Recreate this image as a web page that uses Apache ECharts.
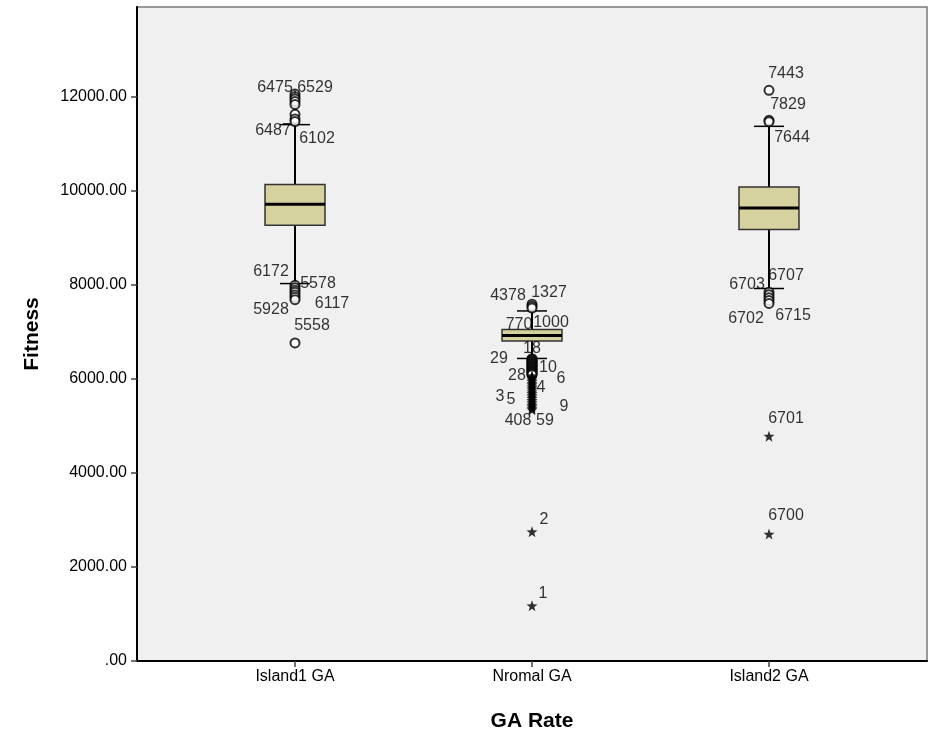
<!DOCTYPE html>
<html>
<head>
<meta charset="utf-8">
<script src="https://cdn.jsdelivr.net/npm/echarts@6/dist/echarts.min.js"></script>
<style>
html,body{margin:0;padding:0;background:#fff;}
#main{width:939px;height:751px;}
</style>
</head>
<body>
<div id="main"></div>
<script>
const categories = ['Island1 GA', 'Nromal GA', 'Island2 GA'];
const yTicks = [0, 2000, 4000, 6000, 8000, 10000, 12000];
// [low whisker, Q1, median, Q3, high whisker]
const boxStats = [
  [8022, 9261, 9707, 10125, 11400],
  [6430, 6803, 6918, 7045, 7440],
  [7917, 9170, 9629, 10075, 11364]
];
// mild outliers (circles)
const circlesIsland1 = [12050, 11995, 11945, 11890, 11830, 11620, 11520, 11465, 7985, 7935, 7880, 7835, 7780, 7730, 7680, 6761];
const circlesNormal = [7583, 7540, 7500, 6425, 6405, 6382, 6364, 6341, 6322, 6300, 6283, 6259, 6240, 6222, 6198, 6181, 6160, 6139, 6121, 6100, 6086];
const circlesIsland2 = [12128, 11491, 11462, 7838, 7785, 7722, 7664, 7600];
// extreme outliers (stars)
const starsNormal = [6062, 6033, 6004, 5969, 5941, 5902, 5871, 5833, 5801, 5762, 5724, 5690, 5652, 5613, 5581, 5540, 5503, 5468, 5432, 5401, 5368, 5340, 2747, 1175];
const starsIsland2 = [4779, 2697];
// outlier case labels: [category index, value at label, text]
const caseLabels = [
  [0, 12192, '6475,6529'], [0, 11279, '6487'], [0, 11109, '6102'], [0, 8284, '6172'],
  [0, 8029, '5578'], [0, 7477, '5928'], [0, 7604, '6117'], [0, 7137, '5558'],
  [1, 7774, '4378'], [1, 7838, '1327'], [1, 7158, '770'], [1, 7200, '1000'],
  [1, 6648, '18'], [1, 6436, '29'], [1, 6075, '28'], [1, 6245, '10'], [1, 6011, '6'],
  [1, 5820, '4'], [1, 5629, '3'], [1, 5565, '5'], [1, 5416, '9'], [1, 5119, '408'],
  [1, 5119, '59'], [1, 3016, '2'], [1, 1423, '1'],
  [2, 12489, '7443'], [2, 11831, '7829'], [2, 11130, '7644'], [2, 8008, '6703'],
  [2, 8199, '6707'], [2, 7285, '6702'], [2, 7349, '6715'], [2, 5161, '6701'], [2, 3080, '6700']
];
const caseLabelDx = [0, -22, 22, -24, 23, -24, 37, 17,
  -24, 17, -13, 19, 0, -33, -15, 16, 29, 9, -32, -21, 32, -14, 13, 12, 11,
  17, 19, 23, -22, 17, -23, 24, 17, 17];

const FONT = "'Liberation Sans', Arial, sans-serif";
const starPath = 'path://M0,-10 L2.4,-3.3 L9.5,-3.1 L3.9,1.3 L5.9,8.1 L0,4 L-5.9,8.1 L-3.9,1.3 L-9.5,-3.1 L-2.4,-3.3 Z';

const boxData = boxStats.map((s, i) => [i].concat(s));
const toPts = (cat, arr) => arr.map(v => [cat, v]);

const chart = echarts.init(document.getElementById('main'), null, {renderer: 'canvas'});
chart.setOption({
  animation: false,
  backgroundColor: '#ffffff',
  textStyle: {fontFamily: FONT},
  grid: {
    left: 137, right: 12, top: 7, bottom: 90,
    show: true, backgroundColor: '#f0f0f0', borderColor: '#7a7a7a', borderWidth: 1.5
  },
  xAxis: {
    type: 'value', min: -2 / 3, max: 8 / 3,
    name: 'GA Rate', nameLocation: 'middle', nameGap: 50,
    nameTextStyle: {fontFamily: FONT, fontSize: 21, fontWeight: 'bold', color: '#000'},
    axisLine: {onZero: false, lineStyle: {color: '#000', width: 2}},
    axisTick: {show: true, length: 6, customValues: [0, 1, 2], lineStyle: {color: '#444', width: 1.5}},
    axisLabel: {customValues: [0, 1, 2], formatter: v => categories[Math.round(v)], margin: 8,
      fontFamily: FONT, fontSize: 16, color: '#000'},
    splitLine: {show: false}
  },
  yAxis: {
    type: 'value', min: 0, max: 13900, interval: 2000,
    name: 'Fitness', nameLocation: 'middle', nameGap: 94,
    nameTextStyle: {fontFamily: FONT, fontSize: 21, fontWeight: 'bold', color: '#000'},
    axisLine: {show: true, onZero: false, lineStyle: {color: '#000', width: 2}},
    axisTick: {show: true, length: 6, customValues: yTicks, lineStyle: {color: '#444', width: 1.5}},
    axisLabel: {customValues: yTicks, margin: 10, fontFamily: FONT, fontSize: 16, color: '#000',
      formatter: v => v === 0 ? '.00' : v.toFixed(2)},
    splitLine: {show: false}
  },
  series: [
    {
      type: 'custom',
      data: boxData,
      encode: {x: 0, y: [1, 2, 3, 4, 5]},
      z: 2,
      renderItem: function (params, api) {
        const x = api.value(0);
        const c = v => api.coord([x, v]);
        const lo = c(api.value(1)), q1 = c(api.value(2)), md = c(api.value(3)),
              q3 = c(api.value(4)), hi = c(api.value(5));
        const cx = lo[0], hw = 30, cw = 15;
        const line = (x1, y1, x2, y2, w, col) => ({
          type: 'line', shape: {x1: x1, y1: y1, x2: x2, y2: y2},
          style: {stroke: col || '#000', lineWidth: w}
        });
        return {
          type: 'group',
          children: [
            line(cx, hi[1], cx, q3[1], 2),
            line(cx, q1[1], cx, lo[1], 2),
            line(cx - cw, hi[1], cx + cw, hi[1], 1.5),
            line(cx - cw, lo[1], cx + cw, lo[1], 1.5),
            {type: 'rect', shape: {x: cx - hw, y: q3[1], width: 2 * hw, height: q1[1] - q3[1]},
              style: {fill: '#d6d29f', stroke: '#333', lineWidth: 1.5}},
            line(cx - hw, md[1], cx + hw, md[1], 3)
          ]
        };
      }
    },
    {
      type: 'scatter', z: 3,
      symbol: 'emptyCircle', symbolSize: 9,
      itemStyle: {color: '#000', borderColor: '#000', borderWidth: 1.5},
      data: [].concat(toPts(0, circlesIsland1), toPts(1, circlesNormal), toPts(2, circlesIsland2))
    },
    {
      type: 'scatter', z: 3,
      symbol: starPath, symbolSize: 11,
      itemStyle: {color: '#000'},
      data: [].concat(toPts(1, starsNormal), toPts(2, starsIsland2))
    },
    {
      type: 'scatter', z: 4, silent: true,
      symbolSize: 0,
      data: caseLabels.map((d, i) => ({
        value: [d[0], d[1]], name: d[2],
        label: {offset: [caseLabelDx[i], 0]}
      })),
      label: {
        show: true, position: 'inside', formatter: p => p.name,
        fontFamily: FONT, fontSize: 16, color: '#000',
        textBorderWidth: 0, textBorderColor: 'transparent'
      }
    }
  ]
});
</script>
</body>
</html>
